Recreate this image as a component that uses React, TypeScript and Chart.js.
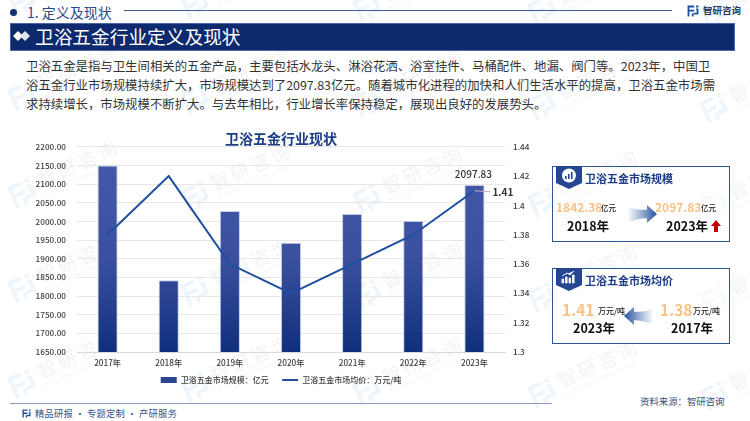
import React, { useEffect, useRef } from "react";
import { Chart, registerables } from "chart.js";

Chart.register(...registerables);

const years = ["2017年", "2018年", "2019年", "2020年", "2021年", "2022年", "2023年"];
const marketSize = [2150, 1842.38, 2028, 1943, 2020, 2001, 2097.83];
const avgPrice = [1.38, 1.42, 1.36, 1.34, 1.36, 1.38, 1.41];
const sizeName = "卫浴五金市场规模：亿元";
const priceName = "卫浴五金市场均价：万元/吨";
const chartTitle = "卫浴五金行业现状";
const bodyLines = [
  "卫浴五金是指与卫生间相关的五金产品，主要包括水龙头、淋浴花洒、浴室挂件、马桶配件、地漏、阀门等。2023年，中国卫",
  "浴五金行业市场规模持续扩大，市场规模达到了2097.83亿元。随着城市化进程的加快和人们生活水平的提高，卫浴五金市场需",
  "求持续增长，市场规模不断扩大。与去年相比，行业增长率保持稳定，展现出良好的发展势头。",
];

const FONT = '"Noto Sans CJK SC", "Noto Sans", sans-serif';
const NAVY = "#0e2a6e";
const LINE = "#1f4f9f";
const ORANGE = "#f9c285";

const wmX = [70, 243, 415, 590, 762];
const wmY = [-20, 75, 172, 267, 363];

function Logo({ size, color, style }: { size: number; color: string; style?: React.CSSProperties }) {
  return (
    <svg width={size} height={size} viewBox="0 0 20 20" style={style}>
      <path d="M1 1h11v3H4v4h8v3H4v8H1z" fill={color} />
      <path d="M15 1h4v3h-4zM15 6h4v10h-8v-3h5V8h-1z" fill={color} />
      <path d="M8 14h3v5H8z" fill={color} />
    </svg>
  );
}

function T({ x, y, size, color, weight, children, spacing }: any) {
  return (
    <div
      style={{
        position: "absolute",
        left: x,
        top: y,
        transform: "translateY(-50%)",
        fontSize: size,
        color,
        fontWeight: weight ?? 400,
        whiteSpace: "nowrap",
        lineHeight: 1,
        letterSpacing: spacing,
      }}
    >
      {children}
    </div>
  );
}

function Card({ y, title, icon }: { y: number; title: string; icon: React.ReactNode }) {
  return (
    <>
      <div
        style={{
          position: "absolute",
          left: 552,
          top: y,
          width: 176,
          height: 74,
          border: "1.5px solid #2f5597",
          background: "rgba(255,255,255,0.55)",
        }}
      />
      <svg style={{ position: "absolute", left: 556, top: y }} width={26} height={24} viewBox="0 0 26 24">
        <path d="M0 0h26v17L13 23 0 17z" fill="#24478f" />
        {icon}
      </svg>
      <T x={585} y={y + 11.5} size={11} color="#1c3d86" weight={700}>
        {title}
      </T>
    </>
  );
}

function Arrow({ x, y, left, id }: { x: number; y: number; left?: boolean; id: string }) {
  return (
    <svg
      style={{ position: "absolute", left: x, top: y, transform: left ? "scaleX(-1)" : undefined }}
      width={29}
      height={18}
      viewBox="0 0 29 19"
      preserveAspectRatio="none"
    >
      <defs>
        <linearGradient id={id} x1="0" x2="1" y1="0" y2="0">
          <stop offset="0" stopColor="#3a62a8" stopOpacity="0.02" />
          <stop offset="1" stopColor="#234f9c" />
        </linearGradient>
      </defs>
      <path d="M0 2 C8 5 14 5 19 5V0L29 9.5 19 19V14C12 14 7 16 0 18z" fill={`url(#${id})`} />
    </svg>
  );
}

export default function App() {
  const ref = useRef<HTMLCanvasElement | null>(null);

  useEffect(() => {
    const labelPlugin = {
      id: "endLabels",
      afterDatasetsDraw(chart: any) {
        const { ctx } = chart;
        const last = years.length - 1;
        const bar = chart.getDatasetMeta(0).data[last];
        const pt = chart.getDatasetMeta(1).data[last];
        ctx.save();
        ctx.textBaseline = "middle";
        ctx.fillStyle = "#333333";
        ctx.textAlign = "center";
        ctx.font = `500 10px ${FONT}`;
        ctx.fillText(marketSize[last].toFixed(2), bar.x - 1, bar.y - 11);
        ctx.strokeStyle = "#b8b8b8";
        ctx.lineWidth = 1;
        ctx.beginPath();
        ctx.moveTo(pt.x, pt.y);
        ctx.lineTo(pt.x + 16, pt.y + 1);
        ctx.stroke();
        ctx.textAlign = "left";
        ctx.font = `700 10px ${FONT}`;
        ctx.fillText(avgPrice[last].toFixed(2), pt.x + 18, pt.y + 1.5);
        ctx.restore();
      },
    };

    const tickFont = { family: FONT, size: 8.2, weight: 500 as any };
    const chart = new Chart(ref.current!, {
      type: "bar",
      data: {
        labels: years,
        datasets: [
          {
            type: "bar",
            label: sizeName,
            data: marketSize,
            yAxisID: "y",
            order: 2,
            barPercentage: 0.33,
            categoryPercentage: 1,
            borderWidth: 1,
            borderColor: "rgba(175,185,210,0.7)",
            backgroundColor: (c: any) => {
              const area = c.chart.chartArea;
              if (!area) return "#2f4a9a";
              const g = c.chart.ctx.createLinearGradient(0, area.top, 0, area.bottom);
              g.addColorStop(0, "#4459aa");
              g.addColorStop(0.55, "#3a509f");
              g.addColorStop(1, "#0f2f7c");
              return g;
            },
          },
          {
            type: "line",
            label: priceName,
            data: avgPrice,
            yAxisID: "y1",
            order: 1,
            borderColor: LINE,
            backgroundColor: LINE,
            borderWidth: 2,
            pointRadius: 0,
            tension: 0,
          },
        ],
      } as any,
      options: {
        animation: false,
        responsive: false,
        devicePixelRatio: 1,
        layout: { padding: { top: 5, bottom: 1, left: 0, right: 0 } },
        plugins: {
          title: {
            display: true,
            text: chartTitle,
            color: "#1c3d86",
            font: { family: FONT, size: 14, weight: 700 as any },
            padding: { top: 0, bottom: 0 },
          },
          legend: {
            position: "bottom",
            labels: {
              font: { family: FONT, size: 8, weight: 500 as any },
              color: "#404040",
              usePointStyle: true,
              pointStyleWidth: 16,
              boxHeight: 6,
              padding: 8,
              generateLabels: () => [
                {
                  text: sizeName + "   ",
                  fillStyle: "#2c4593",
                  strokeStyle: "#2c4593",
                  pointStyle: "rect",
                  lineWidth: 0,
                  fontColor: "#404040",
                } as any,
                {
                  text: priceName,
                  fillStyle: LINE,
                  strokeStyle: LINE,
                  pointStyle: "line",
                  lineWidth: 2,
                  fontColor: "#404040",
                } as any,
              ],
            },
          },
          tooltip: { enabled: false },
        },
        scales: {
          x: {
            grid: { display: false, drawTicks: false },
            border: { color: "#d9d9d9" },
            ticks: { font: tickFont, color: "#404040", padding: 6, maxRotation: 0 },
            afterFit: (s: any) => {
              s.height = 16;
            },
          },
          y: {
            position: "left",
            min: 1650,
            max: 2200,
            grid: { color: "#e7e7e7", drawTicks: false },
            border: { display: false },
            ticks: {
              stepSize: 50,
              font: tickFont,
              color: "#404040",
              padding: 11,
              callback: (v: any) => Number(v).toFixed(2),
            },
            afterFit: (s: any) => {
              s.width = 77;
            },
          },
          y1: {
            position: "right",
            min: 1.3,
            max: 1.44,
            grid: { display: false, drawTicks: false },
            border: { display: false },
            ticks: {
              stepSize: 0.02,
              font: tickFont,
              color: "#404040",
              padding: 8,
              callback: (v: any) => String(Number(Number(v).toFixed(2))),
            },
            afterFit: (s: any) => {
              s.width = 57;
            },
          },
        },
      } as any,
      plugins: [labelPlugin],
    });
    return () => chart.destroy();
  }, []);

  return (
    <div
      style={{
        position: "fixed",
        left: 0,
        top: 0,
        width: 750,
        height: 421,
        background: "#fff",
        overflow: "hidden",
        fontFamily: FONT,
      }}
    >
      {wmX.map((x, i) =>
        wmY.map((y, j) => (
          <div
            key={`${i}-${j}`}
            style={{
              position: "absolute",
              left: x - 65,
              top: y + i * 3 - 18,
              width: 130,
              height: 36,
              transform: "rotate(-24deg)",
              opacity: 0.075,
            }}
          >
            <Logo size={26} color="#2f80d0" style={{ position: "absolute", left: 0, top: 5 }} />
            <div
              style={{
                position: "absolute",
                left: 32,
                top: 3,
                fontSize: 19,
                lineHeight: 1,
                letterSpacing: 3,
                color: "#5f6f8f",
                whiteSpace: "nowrap",
              }}
            >
              智研咨询
            </div>
            <div
              style={{
                position: "absolute",
                left: 33,
                top: 24,
                fontSize: 5,
                color: "#5f6f8f",
                whiteSpace: "nowrap",
              }}
            >
              INTELLIGENCE RESEARCH GROUP
            </div>
          </div>
        ))
      )}

      {/* header */}
      <div style={{ position: "absolute", left: 10, top: 8.5, width: 7, height: 7, borderRadius: 4, background: "#12306f" }} />
      <T x={27} y={12} size={14} color="#2e4a85">
        1. 定义及现状
      </T>
      <div style={{ position: "absolute", left: 124, top: 10, width: 548, height: 1, background: "#3f5d9e" }} />
      <Logo size={12} color="#1c4f9f" style={{ position: "absolute", left: 687, top: 5 }} />
      <T x={703} y={10.5} size={9.5} color="#2b3a5c" weight={700}>
        智研咨询
      </T>

      {/* banner */}
      <div
        style={{
          position: "absolute",
          left: 10,
          top: 23,
          width: 723,
          height: 26,
          background: NAVY,
          border: "1px solid #4a67a8",
        }}
      />
      <svg style={{ position: "absolute", left: 13, top: 30 }} width={18} height={12} viewBox="0 0 18 12">
        <path d="M5 1l5 5-5 5-5-5z" fill="#fff" />
        <path d="M12 1l5 5-5 5-5-5z" fill="#dfe6f3" />
      </svg>
      <T x={35} y={36} size={18.7} color="#fff">
        卫浴五金行业定义及现状
      </T>

      {/* body text */}
      {bodyLines.map((l, i) => (
        <T key={i} x={26} y={[65.5, 84.5, 103.5][i]} size={12.4} color="#333333">
          {l}
        </T>
      ))}

      {/* chart */}
      <canvas
        ref={ref}
        width={562}
        height={270}
        style={{ position: "absolute", left: 0, top: 125, width: 562, height: 270 }}
      />

      {/* card 1 */}
      <Card
        y={166}
        title="卫浴五金市场规模"
        icon={
          <>
            <circle cx={13} cy={9.5} r={7} fill="#fff" />
            <path d="M9 13v-3h1.6v3zM12 13V8h1.6v5zM15 13V6h1.6v7z" fill="#24478f" />
          </>
        }
      />
      <T x={556} y={207} size={12} color={ORANGE} weight={700}>1842.38</T>
      <T x={601} y={208} size={7.5} color="#222" weight={500}>亿元</T>
      <T x={567} y={226} size={12.5} color="#111" weight={700}>2018年</T>
      <Arrow x={628} y={205} id="a1" />
      <T x={655} y={207} size={12} color={ORANGE} weight={700}>2097.83</T>
      <T x={701} y={208} size={7.5} color="#222" weight={500}>亿元</T>
      <T x={666} y={226} size={12.5} color="#111" weight={700}>2023年</T>
      <svg style={{ position: "absolute", left: 711, top: 220 }} width={10} height={12} viewBox="0 0 10 12">
        <path d="M5 0l5 6H7v6H3V6H0z" fill="#c00000" />
      </svg>

      {/* card 2 */}
      <Card
        y={268}
        title="卫浴五金市场均价"
        icon={
          <path d="M6 15v-4h1.6v4zM9.5 15V9h1.6v6zM13 15v-5h1.6v5zM16.5 15V7h1.6v8zM6 8l5-3 3 2 4-4" fill="#fff" stroke="#fff" strokeWidth={0.8} />
        }
      />
      <T x={562} y={309.5} size={15.5} color={ORANGE} weight={700}>1.41</T>
      <T x={598} y={310.5} size={8} color="#222" weight={500}>万元/吨</T>
      <T x={573} y={328} size={12.5} color="#111" weight={700}>2023年</T>
      <Arrow x={624} y={307} left id="a2" />
      <T x={660} y={309.5} size={15.5} color={ORANGE} weight={700}>1.38</T>
      <T x={693} y={310.5} size={8} color="#222" weight={500}>万元/吨</T>
      <T x={671} y={328} size={12.5} color="#111" weight={700}>2017年</T>

      {/* footer */}
      <div style={{ position: "absolute", left: 10, top: 403, width: 542, height: 1, background: "#8a9cc6" }} />
      <Logo size={9} color="#1c4f9f" style={{ position: "absolute", left: 22, top: 409 }} />
      <T x={35} y={414} size={9.3} color="#3b5488" spacing={0.2}>
        精品研报 · 专题定制 · 产研服务
      </T>
      <T x={640} y={402} size={9.4} color="#3d5080">
        资料来源：智研咨询
      </T>
    </div>
  );
}
